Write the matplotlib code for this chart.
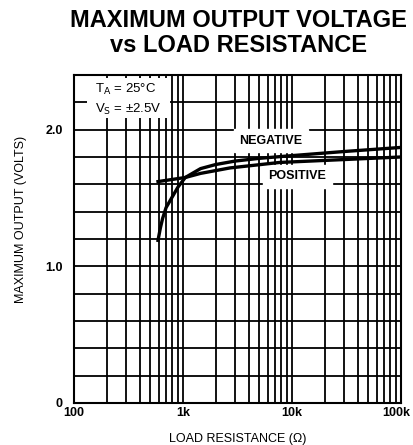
import numpy as np
import matplotlib.pyplot as plt
import matplotlib.transforms as mtransforms
from matplotlib.patches import Rectangle
from matplotlib.ticker import FixedLocator, NullFormatter

# curves
negR = [590, 620, 650, 700, 800, 900, 1050, 1450, 2000, 3000, 5000, 10000, 30000, 100000]
negV = [1.19, 1.28, 1.35, 1.43, 1.51, 1.58, 1.65, 1.715, 1.745, 1.77, 1.79, 1.81, 1.84, 1.87]
posR = [590, 1050, 1450, 2700, 7700, 100000]
posV = [1.62, 1.65, 1.68, 1.72, 1.76, 1.80]

xTicks = [100, 1000, 10000, 100000]
xTickLabels = ["100", "1k", "10k", "100k"]
yTicks = [0, 1.0, 2.0]
yTickLabels = ["0", "1.0", "2.0"]

plt.rcParams['font.family'] = ['Liberation Sans', 'DejaVu Sans']

fig = plt.figure(figsize = (4.14, 4.45), dpi = 100)
ax : plt.Axes = fig.add_axes([0.1787, 0.0944, 0.7899, 0.7371])

ax.set_xscale('log')
ax.set_xlim(100, 100000)
ax.set_ylim(0, 2.4)

minor = [m * 10 ** d for d in range(2, 5) for m in range(2, 10)]
ax.xaxis.set_minor_locator(FixedLocator(minor))
ax.xaxis.set_minor_formatter(NullFormatter())
ax.set_xticks(xTicks)
ax.set_xticklabels(xTickLabels, fontweight = 'bold')
ax.set_yticks(yTicks)
ax.set_yticklabels(yTickLabels, fontweight = 'bold')
ax.yaxis.set_minor_locator(FixedLocator(np.arange(0, 2.41, 0.2)))

ax.grid(True, which = 'both', color = 'black', linewidth = 1.3)
ax.tick_params(which = 'both', length = 0, labelsize = 9)
ax.tick_params(axis = 'x', pad = 3)
ax.tick_params(axis = 'y', pad = 8)
for s in ax.spines.values():
    s.set_linewidth(1.5)

# last x label sits a bit left of its gridline, as in the original
lastLabel = ax.get_xticklabels()[-1]
lastLabel.set_transform(lastLabel.get_transform() + mtransforms.ScaledTranslation(-0.05, 0, fig.dpi_scale_trans))

# white box behind the conditions text
ax.add_patch(Rectangle((0.04, 0.87), 0.255, 0.12, transform = ax.transAxes,
                       facecolor = 'white', edgecolor = 'none', zorder = 2))
ax.text(0.065, 0.955, r'T$_\mathrm{A}$ = 25°C', transform = ax.transAxes,
        fontsize = 9.5, va = 'center', zorder = 3)
ax.text(0.065, 0.895, r'V$_\mathrm{S}$ = ±2.5V', transform = ax.transAxes,
        fontsize = 9.5, va = 'center', zorder = 3)

ax.plot(negR, negV, color = 'black', linewidth = 2.4, zorder = 4)
ax.plot(posR, posV, color = 'black', linewidth = 2.4, zorder = 4)

ax.text(3300, 1.92, "NEGATIVE", fontsize = 9, fontweight = 'bold', ha = 'left', va = 'center',
        backgroundcolor = 'white', zorder = 3)
ax.text(6100, 1.66, "POSITIVE", fontsize = 9, fontweight = 'bold', ha = 'left', va = 'center',
        backgroundcolor = 'white', zorder = 3)

ax.set_xlabel("LOAD RESISTANCE (\u03a9)", fontsize = 9, labelpad = 10)
ax.set_ylabel("MAXIMUM OUTPUT (VOLTS)", fontsize = 9)
ax.yaxis.set_label_coords(-0.145, 0.56)

fig.text(0.575, 0.955, "MAXIMUM OUTPUT VOLTAGE", ha = 'center', va = 'center',
         fontsize = 17, fontweight = 'bold')
fig.text(0.575, 0.898, "vs LOAD RESISTANCE", ha = 'center', va = 'center',
         fontsize = 17, fontweight = 'bold')

plt.savefig("out.png", dpi = 100)
